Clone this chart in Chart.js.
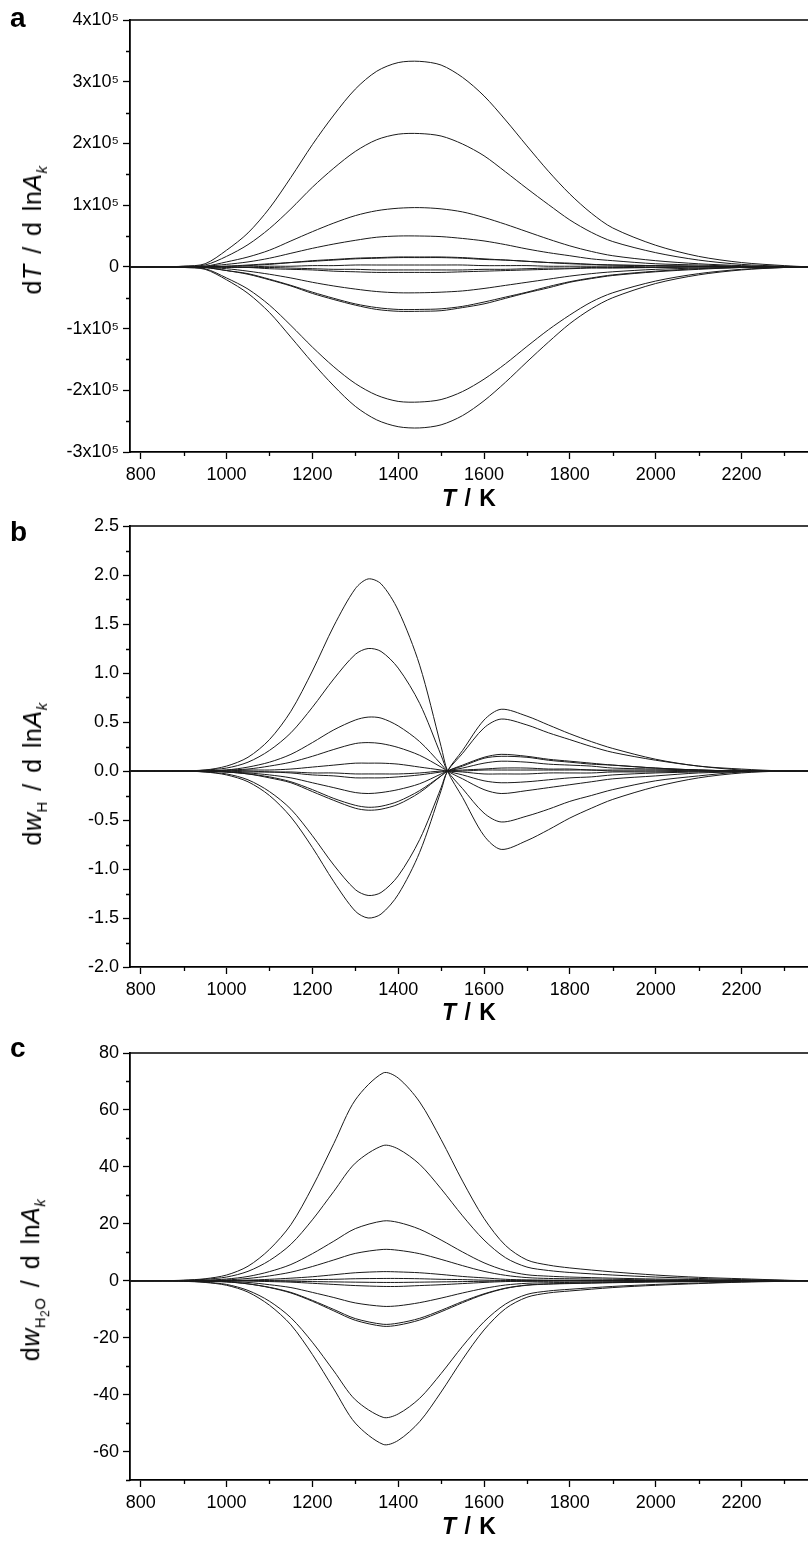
<!DOCTYPE html>
<html lang="en">
<head>
<meta charset="UTF-8">
<title>Sensitivity of T, w_H and w_H2O to ln A_k</title>
<script src="https://cdn.jsdelivr.net/npm/chart.js"></script>
<style>
  body { margin: 0; background: #fff; font-family: "Liberation Sans", Arial, sans-serif; color: #000; }
  #page { position: relative; width: 808px; height: 1543px; overflow: hidden; }
  #page canvas { position: absolute; left: 0; }
  .letter { position: absolute; left: 10px; font-weight: bold; font-size: 28px; line-height: 28px; }
  .ytitle { position: absolute; left: 34px; font-size: 25px; white-space: nowrap; word-spacing: 3px; letter-spacing: 0.5px;
            transform: translate(-50%, -50%) rotate(-90deg); }
  .xtitle { position: absolute; left: 469px; font-size: 23px; font-weight: bold; white-space: nowrap; word-spacing: 2px;
            transform: translate(-50%, -50%); }
  sub { font-size: 0.6em; vertical-align: -0.4em; }
  sub sub { font-size: 0.8em; vertical-align: -0.3em; }
</style>
</head>
<body>
<div id="page">
  <canvas id="chartA" width="808" height="510" style="top:0px"></canvas>
  <canvas id="chartB" width="808" height="515" style="top:510px"></canvas>
  <canvas id="chartC" width="808" height="513" style="top:1025px"></canvas>

  <div class="letter" style="top:4px">a</div>
  <div class="letter" style="top:518px">b</div>
  <div class="letter" style="top:1034px">c</div>

  <div class="ytitle" style="top:230px">d<i>T</i> / d ln<i>A</i><sub><i>k</i></sub></div>
  <div class="ytitle" style="top:774px">d<i>w</i><sub>H</sub> / d ln<i>A</i><sub><i>k</i></sub></div>
  <div class="ytitle" style="top:1280px">d<i>w</i><sub>H<sub>2</sub>O</sub> / d ln<i>A</i><sub><i>k</i></sub></div>

  <div class="xtitle" style="top:498px"><i>T</i> / K</div>
  <div class="xtitle" style="top:1012px"><i>T</i> / K</div>
  <div class="xtitle" style="top:1526px"><i>T</i> / K</div>
</div>

<script>
// temperature axis, shared tick labels
const xTicks = [800, 1000, 1200, 1400, 1600, 1800, 2000, 2200];
const xMinor = [900, 1100, 1300, 1500, 1700, 1900, 2100, 2300];

// panel a: dT / d lnA_k, values in units of 1e5
const tA = [775, 850, 900, 950, 1000, 1050, 1100, 1150, 1200, 1250, 1300, 1350, 1400, 1450,
            1500, 1550, 1600, 1650, 1700, 1750, 1800, 1850, 1900, 2000, 2100, 2200, 2300, 2355];
const dT = [
  [0,0,0.01,0.05,0.27,0.55,0.95,1.45,1.98,2.46,2.88,3.17,3.31,3.33,3.27,3.07,2.77,2.38,1.96,1.55,1.18,0.87,0.63,0.35,0.17,0.07,0.02,0],
  [0,0,0.01,0.03,0.17,0.36,0.62,0.94,1.29,1.60,1.87,2.06,2.15,2.16,2.12,1.99,1.80,1.54,1.27,1.01,0.76,0.56,0.41,0.23,0.11,0.04,0.01,0],
  [0,0,0,0.01,0.08,0.16,0.27,0.42,0.57,0.71,0.83,0.91,0.95,0.96,0.94,0.89,0.80,0.69,0.57,0.45,0.34,0.25,0.18,0.10,0.05,0.02,0,0],
  [0,0,0,0.01,0.04,0.08,0.14,0.22,0.30,0.37,0.43,0.48,0.50,0.50,0.49,0.46,0.42,0.36,0.29,0.23,0.18,0.13,0.10,0.05,0.03,0.01,0,0],
  [0,0,0,0,0.01,0.03,0.05,0.07,0.10,0.12,0.14,0.15,0.16,0.16,0.16,0.15,0.13,0.11,0.09,0.07,0.06,0.04,0.03,0.02,0.01,0,0,0],
  [0,0,0,0,0.01,0.02,0.04,0.07,0.09,0.11,0.13,0.14,0.15,0.15,0.15,0.14,0.12,0.11,0.09,0.07,0.05,0.04,0.03,0.02,0.01,0,0,0],
  [0,0,0,0,0,0,0.01,0.01,0.02,0.02,0.03,0.03,0.03,0.03,0.03,0.03,0.02,0.02,0.02,0.01,0.01,0.01,0.01,0,0,0,0,0],
  [0,0,0,0,0,-0.01,-0.01,-0.02,-0.03,-0.04,-0.04,-0.05,-0.05,-0.05,-0.05,-0.05,-0.04,-0.04,-0.03,-0.02,-0.02,-0.01,-0.01,-0.01,0,0,0,0],
  [0,0,0,0,-0.01,-0.01,-0.03,-0.04,-0.05,-0.07,-0.08,-0.09,-0.09,-0.09,-0.09,-0.08,-0.07,-0.06,-0.05,-0.04,-0.03,-0.02,-0.02,-0.01,0,0,0,0],
  [0,0,0,-0.01,-0.03,-0.07,-0.12,-0.18,-0.25,-0.31,-0.36,-0.40,-0.42,-0.42,-0.41,-0.39,-0.35,-0.30,-0.25,-0.20,-0.15,-0.11,-0.08,-0.04,-0.02,-0.01,0,0],
  [0,0,0,-0.01,-0.06,-0.11,-0.20,-0.30,-0.41,-0.51,-0.60,-0.66,-0.69,-0.69,-0.68,-0.64,-0.57,-0.49,-0.41,-0.32,-0.24,-0.18,-0.13,-0.07,-0.03,-0.01,0,0],
  [0,0,0,-0.01,-0.06,-0.12,-0.21,-0.31,-0.43,-0.53,-0.62,-0.69,-0.72,-0.72,-0.71,-0.66,-0.60,-0.51,-0.42,-0.34,-0.25,-0.19,-0.14,-0.08,-0.04,-0.01,0,0],
  [0,0,-0.01,-0.03,-0.18,-0.36,-0.62,-0.95,-1.30,-1.62,-1.89,-2.08,-2.18,-2.19,-2.15,-2.02,-1.82,-1.57,-1.29,-1.02,-0.78,-0.57,-0.42,-0.23,-0.11,-0.04,-0.01,0],
  [0,0,-0.01,-0.04,-0.21,-0.43,-0.74,-1.14,-1.55,-1.93,-2.26,-2.48,-2.59,-2.61,-2.56,-2.41,-2.17,-1.87,-1.54,-1.22,-0.92,-0.68,-0.50,-0.27,-0.13,-0.05,-0.01,0]
];
const yTicksA = [-3, -2, -1, 0, 1, 2, 3, 4];
const yMinorA = [-2.5, -1.5, -0.5, 0.5, 1.5, 2.5, 3.5];

// panel b: dw_H / d lnA_k
const tB = [775, 850, 900, 950, 1000, 1050, 1100, 1150, 1200, 1250, 1300, 1330, 1360, 1400, 1450,
            1500, 1515, 1550, 1600, 1640, 1700, 1750, 1800, 1850, 1900, 2000, 2100, 2200, 2300, 2355];
const dwH = [
  [0,0,0,0.01,0.05,0.14,0.32,0.61,1.02,1.48,1.86,1.96,1.91,1.64,1.08,0.25,0,-0.27,-0.66,-0.80,-0.71,-0.60,-0.48,-0.38,-0.29,-0.16,-0.07,-0.02,0,0],
  [0,0,0,0.01,0.03,0.09,0.21,0.39,0.65,0.94,1.19,1.25,1.22,1.05,0.69,0.16,0,-0.18,-0.43,-0.52,-0.46,-0.39,-0.31,-0.25,-0.19,-0.10,-0.05,-0.01,0,0],
  [0,0,0,0,0.01,0.04,0.09,0.17,0.29,0.42,0.52,0.55,0.54,0.46,0.30,0.07,0,-0.08,-0.19,-0.23,-0.20,-0.17,-0.14,-0.11,-0.08,-0.05,-0.02,-0.01,0,0],
  [0,0,0,0,0.01,0.02,0.05,0.09,0.15,0.22,0.28,0.29,0.28,0.24,0.16,0.04,0,-0.04,-0.10,-0.12,-0.11,-0.09,-0.07,-0.06,-0.04,-0.02,-0.01,0,0,0],
  [0,0,0,0,0,0.01,0.01,0.02,0.04,0.06,0.08,0.08,0.08,0.07,0.04,0.01,0,-0.01,-0.03,-0.03,-0.03,-0.02,-0.02,-0.02,-0.01,-0.01,0,0,0,0],
  [0,0,0,0,0,0,-0.01,-0.01,-0.02,-0.02,-0.03,-0.03,-0.03,-0.03,-0.02,0,0,0,0.01,0.01,0.01,0.01,0.01,0.01,0,0,0,0,0,0],
  [0,0,0,0,0,-0.01,-0.01,-0.02,-0.04,-0.05,-0.07,-0.07,-0.07,-0.06,-0.04,-0.01,0,0.01,0.02,0.03,0.03,0.02,0.02,0.01,0.01,0.01,0,0,0,0],
  [0,0,0,0,-0.01,-0.02,-0.04,-0.07,-0.12,-0.17,-0.22,-0.23,-0.22,-0.19,-0.13,-0.03,0,0.03,0.08,0.10,0.09,0.07,0.06,0.05,0.03,0.02,0.01,0,0,0],
  [0,0,0,0,-0.01,-0.03,-0.06,-0.11,-0.19,-0.28,-0.35,-0.37,-0.36,-0.31,-0.20,-0.05,0,0.05,0.13,0.15,0.14,0.11,0.09,0.07,0.06,0.03,0.01,0,0,0],
  [0,0,0,0,-0.01,-0.03,-0.07,-0.12,-0.21,-0.30,-0.38,-0.40,-0.39,-0.34,-0.22,-0.05,0,0.06,0.14,0.17,0.15,0.12,0.10,0.08,0.06,0.03,0.01,0,0,0],
  [0,0,0,-0.01,-0.03,-0.09,-0.21,-0.39,-0.66,-0.96,-1.21,-1.27,-1.24,-1.07,-0.70,-0.17,0,0.18,0.44,0.53,0.47,0.39,0.32,0.25,0.19,0.11,0.05,0.01,0,0],
  [0,0,0,-0.01,-0.04,-0.11,-0.25,-0.47,-0.78,-1.13,-1.43,-1.50,-1.46,-1.26,-0.83,-0.20,0,0.21,0.52,0.63,0.56,0.47,0.38,0.30,0.23,0.12,0.05,0.02,0,0]
];
const yTicksB = [-2.0, -1.5, -1.0, -0.5, 0.0, 0.5, 1.0, 1.5, 2.0, 2.5];
const yMinorB = [-1.75, -1.25, -0.75, -0.25, 0.25, 0.75, 1.25, 1.75, 2.25];

// panel c: dw_H2O / d lnA_k
const tC = [775, 850, 900, 950, 1000, 1050, 1100, 1150, 1200, 1250, 1300, 1365, 1400, 1450,
            1500, 1550, 1600, 1650, 1700, 1750, 1800, 1900, 2000, 2100, 2200, 2300, 2355];
const dwH2O = [
  [0,0,0.2,0.7,2.0,5.1,11.0,19.7,32.9,48.2,63.5,73.0,71.2,62.8,49.6,35.0,21.9,12.4,7.3,5.5,4.5,3.1,2.0,1.2,0.7,0.2,0],
  [0,0,0.1,0.5,1.3,3.3,7.1,12.8,21.4,31.4,41.3,47.5,46.3,40.9,32.3,22.8,14.3,8.1,4.8,3.6,2.9,2.0,1.3,0.8,0.4,0.1,0],
  [0,0,0.1,0.2,0.6,1.5,3.2,5.7,9.5,13.9,18.3,21.0,20.5,18.1,14.3,10.1,6.3,3.6,2.1,1.6,1.3,0.9,0.6,0.4,0.2,0.1,0],
  [0,0,0,0.1,0.3,0.8,1.7,3.0,5.0,7.3,9.6,11.0,10.7,9.5,7.5,5.3,3.3,1.9,1.1,0.8,0.7,0.5,0.3,0.2,0.1,0,0],
  [0,0,0,0,0.1,0.2,0.5,0.9,1.4,2.1,2.8,3.2,3.1,2.8,2.2,1.5,1.0,0.5,0.3,0.2,0.2,0.1,0.1,0.1,0,0,0],
  [0,0,0,0,0,0.1,0.1,0.2,0.4,0.5,0.7,0.8,0.8,0.7,0.5,0.4,0.2,0.1,0.1,0.1,0,0,0,0,0,0,0],
  [0,0,0,0,0,0,-0.1,-0.2,-0.3,-0.4,-0.5,-0.6,-0.6,-0.5,-0.4,-0.3,-0.2,-0.1,-0.1,0,0,0,0,0,0,0,0],
  [0,0,0,0,-0.1,-0.1,-0.3,-0.5,-0.9,-1.3,-1.7,-2.0,-2.0,-1.7,-1.4,-1.0,-0.6,-0.3,-0.2,-0.2,-0.1,-0.1,-0.1,0,0,0,0],
  [0,0,0,-0.1,-0.3,-0.6,-1.4,-2.4,-4.1,-5.9,-7.8,-9.0,-8.8,-7.7,-6.1,-4.3,-2.7,-1.5,-0.9,-0.7,-0.6,-0.4,-0.2,-0.2,-0.1,0,0],
  [0,0,0,-0.2,-0.4,-1.1,-2.3,-4.1,-6.9,-10.1,-13.3,-15.3,-14.9,-13.2,-10.4,-7.3,-4.6,-2.6,-1.5,-1.1,-0.9,-0.6,-0.4,-0.3,-0.1,0,0],
  [0,0,0,-0.2,-0.4,-1.1,-2.4,-4.3,-7.2,-10.6,-13.9,-16.0,-15.6,-13.8,-10.9,-7.7,-4.8,-2.7,-1.6,-1.2,-1.0,-0.7,-0.4,-0.3,-0.1,0,0],
  [0,0,-0.1,-0.5,-1.3,-3.4,-7.2,-13.0,-21.6,-31.7,-41.8,-48.0,-46.8,-41.3,-32.6,-23.0,-14.4,-8.2,-4.8,-3.6,-3.0,-2.0,-1.3,-0.8,-0.4,-0.1,0],
  [0,0,-0.2,-0.6,-1.6,-4.0,-8.6,-15.5,-25.9,-38.0,-50.0,-57.5,-56.1,-49.5,-39.1,-27.6,-17.3,-9.8,-5.8,-4.3,-3.6,-2.4,-1.6,-1.0,-0.5,-0.2,0]
];
const yTicksC = [-60, -40, -20, 0, 20, 40, 60, 80];
const yMinorC = [-70, -50, -30, -10, 10, 30, 50, 70];

const FONT = '"Liberation Sans", Arial, sans-serif';

// top frame line + short minor ticks on both axes
const frame = {
  id: 'frame',
  afterDraw(chart, args, o) {
    const { ctx, chartArea: a, scales: { x, y } } = chart;
    ctx.save();
    ctx.strokeStyle = '#000';
    ctx.lineWidth = 1.6;
    ctx.beginPath();
    ctx.moveTo(a.left, a.top);
    ctx.lineTo(a.right, a.top);
    ctx.stroke();
    ctx.lineWidth = 1.3;
    ctx.beginPath();
    o.xMinor.forEach(v => {
      const px = Math.round(x.getPixelForValue(v)) + 0.5;
      ctx.moveTo(px, a.bottom);
      ctx.lineTo(px, a.bottom + 4);
    });
    o.yMinor.forEach(v => {
      const py = Math.round(y.getPixelForValue(v)) + 0.5;
      ctx.moveTo(a.left, py);
      ctx.lineTo(a.left - 4, py);
    });
    ctx.stroke();
    ctx.restore();
  }
};

function makePanel(id, xs, series, scale, yMin, yMax, yTicks, yMinor, fmt, padTop) {
  new Chart(document.getElementById(id), {
    type: 'line',
    data: {
      datasets: series.map(vals => ({
        data: xs.map((t, i) => ({ x: t, y: vals[i] * scale })),
        borderColor: '#1a1a1a',
        borderWidth: 1,
        pointRadius: 0,
        tension: 0.3
      }))
    },
    options: {
      responsive: false,
      animation: false,
      layout: { padding: { top: padTop, left: 0, right: 0, bottom: 0 } },
      plugins: {
        legend: { display: false },
        tooltip: { enabled: false },
        frame: { xMinor: xMinor, yMinor: yMinor.map(v => v * scale) }
      },
      scales: {
        x: {
          type: 'linear',
          min: 775,
          max: 2355,
          afterFit: s => { s.height = 58; },
          afterBuildTicks: s => { s.ticks = xTicks.map(v => ({ value: v })); },
          ticks: { font: { family: FONT, size: 18 }, color: '#000', padding: 5, maxRotation: 0,
                   callback: v => String(v) },
          grid: { drawOnChartArea: false, drawTicks: true, tickLength: 7, tickWidth: 1.3, tickColor: '#000' },
          border: { display: true, color: '#000', width: 1.8 }
        },
        y: {
          min: yMin * scale,
          max: yMax * scale,
          afterFit: s => { s.width = 130; },
          afterBuildTicks: s => { s.ticks = yTicks.map(v => ({ value: v * scale })); },
          ticks: { font: { family: FONT, size: 18 }, color: '#000', padding: 4, callback: v => fmt(v / scale) },
          grid: { drawOnChartArea: false, drawTicks: true, tickLength: 7, tickWidth: 1.3, tickColor: '#000' },
          border: { display: true, color: '#000', width: 1.8 }
        }
      }
    },
    plugins: [frame]
  });
}

makePanel('chartA', tA, dT, 1e5, -3, 4, yTicksA, yMinorA,
  v => v === 0 ? '0' : Math.round(v) + 'x10\u2075', 20);
makePanel('chartB', tB, dwH, 1, -2, 2.5, yTicksB, yMinorB,
  v => v.toFixed(1), 16);
makePanel('chartC', tC, dwH2O, 1, -70, 80, yTicksC, yMinorC,
  v => String(Math.round(v)), 28);
</script>
</body>
</html>
